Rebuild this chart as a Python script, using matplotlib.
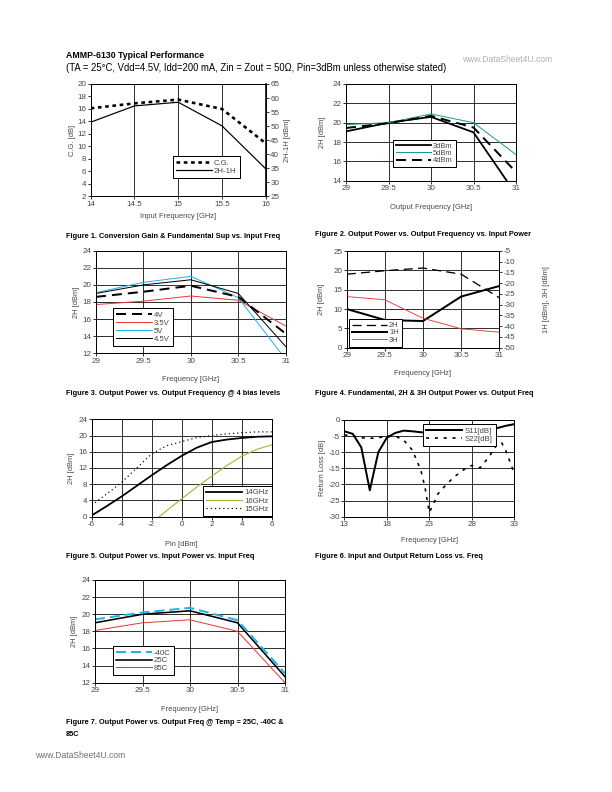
import numpy as np
import matplotlib.pyplot as plt

plt.rcParams['font.family'] = ['Liberation Sans', 'DejaVu Sans']
plt.rcParams['font.size'] = 7
plt.rcParams['axes.unicode_minus'] = False

GRAY = '#474747'
RED = '#e8383a'
CYAN = '#1eb4ea'
TEAL = '#1a9e8c'
GREEN = '#9cc23a'

# Figure 1: conversion gain / 2H-1H vs input freq
f1_freq = [14, 14.5, 15, 15.5, 16]
f1_cg = [16.1, 16.9, 17.5, 16.0, 10.5]
f1_sup = [51.4, 57.2, 58.5, 50.1, 34.8]

# Figure 2: 2H vs output freq for input powers
f2_freq = [29, 29.5, 30, 30.5, 31]
f2_3dbm = [19.1, 20.0, 20.6, 19.0, 12.6]
f2_5dbm = [19.8, 20.0, 20.9, 20.0, 16.7]
f2_4dbm = [19.45, 19.95, 20.7, 19.5, 14.9]

# Figure 3: 2H vs freq for bias levels
f3_freq = [29, 29.5, 30, 30.5, 31]
f3_4v = [18.6, 19.2, 19.9, 18.6, 14.3]
f3_35v = [17.7, 18.1, 18.7, 18.2, 15.2]
f3_5v = [19.1, 20.3, 21.0, 18.5, 11.3]
f3_45v = [19.0, 20.0, 20.6, 19.0, 12.8]

# Figure 4: 2H (left), 1H and 3H (right)
f4_freq = [29, 29.5, 30, 30.5, 31]
f4_2h = [19.0, 19.9, 20.6, 19.0, 12.9]
f4_1h = [-32.0, -37.1, -37.6, -26.2, -21.3]
f4_3h = [-26.2, -27.7, -36.3, -41.2, -42.8]

# Figure 5: 2H vs Pin
f5_pin = [-6, -5, -4, -3, -2, -1, 0, 1, 2, 3, 4, 5, 6]
f5_14g = [0.3, 2.6, 5.0, 7.6, 10.2, 12.7, 15.0, 17.0, 18.4, 19.0, 19.4, 19.7, 19.8]
f5_15g = [2.8, 5.6, 8.5, 12.0, 15.5, 17.5, 18.5, 19.5, 20.0, 20.4, 20.7, 20.9, 20.9]
f5_pin16 = [-1.5, -1, 0, 1, 2, 3, 4, 5, 6]
f5_16g = [0.0, 1.5, 4.4, 7.3, 10.0, 12.6, 14.9, 16.6, 17.7]

# Figure 6: return loss
f6_freq11 = [13, 14, 15, 16, 17, 18, 19, 20, 21, 22, 24, 26, 28, 30, 31, 32, 33]
f6_s11 = [-3.5, -4.3, -8.5, -21.8, -10.0, -5.5, -4.0, -3.3, -3.5, -3.8, -4.2, -4.0, -3.5, -3.0, -2.5, -1.8, -1.3]
f6_freq22 = [13, 14, 15, 16, 17, 18, 19, 20, 21, 22, 22.5, 23, 23.5, 24, 25, 26, 27, 28, 29, 30, 30.5, 31, 31.5, 32, 33]
f6_s22 = [-4.6, -5.0, -5.5, -5.7, -5.5, -5.0, -5.0, -6.3, -9.3, -15.5, -21.0, -28.7, -26.0, -23.0, -20.0,
          -17.5, -15.5, -14.1, -14.8, -11.5, -9.5, -7.5, -7.0, -9.5, -16.5]

# Figure 7: 2H vs freq at temperature
f7_freq = [29, 29.5, 30, 30.5, 31]
f7_m40 = [19.4, 20.2, 20.75, 19.3, 13.1]
f7_25 = [19.0, 20.0, 20.4, 19.0, 12.7]
f7_85 = [18.1, 19.0, 19.35, 18.0, 12.0]


def px_axes(fig, x0, x1, ytop, ybot):
    W, H = 612.0, 792.0
    return fig.add_axes([x0 / W, 1 - ybot / H, (x1 - x0) / W, (ybot - ytop) / H])


def style(ax, xgrid=True, ygrid=True):
    for s in ax.spines.values():
        s.set_linewidth(1.0)
        s.set_color('black')
    ax.tick_params(direction='out', length=3, width=0.8, colors='black',
                   labelcolor=GRAY, labelsize=8, pad=1.5)
    if xgrid:
        ax.grid(True, axis='x', color='black', lw=0.8)
    if ygrid:
        ax.grid(True, axis='y', color='black', lw=0.8)
    ax.set_axisbelow(True)


def legend(ax, handles, loc, anchor, spacing=0.08, size=7.8):
    lg = ax.legend(handles=handles, loc=loc, bbox_to_anchor=anchor, fontsize=size,
                   frameon=True, fancybox=False, edgecolor='black', framealpha=1,
                   handlelength=4.6, handletextpad=0.3, labelspacing=spacing,
                   borderpad=0.4, borderaxespad=0)
    lg.get_frame().set_linewidth(1.0)
    for t in lg.get_texts():
        t.set_color(GRAY)
    return lg


def freq_ticks(ax):
    ax.set_xlim(29, 31)
    ax.set_xticks([29, 29.5, 30, 30.5, 31])
    ax.set_xticklabels(['29', '29.5', '30', '30.5', '31'])


fig = plt.figure(figsize=(8.5, 11), dpi=72)

# header
fig.text(66 / 612, 1 - 55 / 792, 'AMMP-6130 Typical Performance', fontsize=8.8,
         fontweight='bold', va='center', ha='left')
fig.text(66 / 612, 1 - 68 / 792,
         '(TA = 25°C, Vdd=4.5V, Idd=200 mA, Zin = Zout = 50Ω, Pin=3dBm unless otherwise stated)',
         fontsize=9.5, va='center', ha='left')
fig.text(462 / 612, 1 - 60 / 792, 'www.DataSheet4U.com', fontsize=8.5, color='#b0b0b0',
         va='center', ha='left')
fig.text(35 / 612, 1 - 756 / 792, 'www.DataSheet4U.com', fontsize=8.5, color='#707070',
         va='center', ha='left')

CAP = 7.4

# ---- Figure 1
ax = px_axes(fig, 90.7, 265.7, 84, 196.3)
style(ax, xgrid=True, ygrid=False)
ax.set_xlim(14, 16)
ax.set_ylim(2, 20)
ax.set_xticks([14, 14.5, 15, 15.5, 16])
ax.set_xticklabels(['14', '14.5', '15', '15.5', '16'])
ax.set_yticks(np.arange(2, 21, 2))
l1, = ax.plot(f1_freq, f1_cg, color='black', lw=2.6, ls=(0, (1.4, 1.4)), label='C.G.')
ax.set_xlabel('Input Frequency [GHz]', color=GRAY, fontsize=7.5, labelpad=5)
ax.set_ylabel('C.G. [dB]', color=GRAY, fontsize=7.5, labelpad=1)
ax2 = ax.twinx()
ax2.set_ylim(25, 65)
ax2.set_yticks(np.arange(25, 66, 5))
style(ax2, xgrid=False, ygrid=False)
ax2.spines['right'].set_linewidth(1.6)
l2, = ax2.plot(f1_freq, f1_sup, color='black', lw=1.2, label='2H-1H')
ax2.set_ylabel('2H-1H [dBm]', color=GRAY, fontsize=7.5, labelpad=5)
legend(ax2, [l1, l2], 'lower left', (0.469, 0.163))
fig.text(66 / 612, 1 - 236 / 792, 'Figure 1. Conversion Gain & Fundamental Sup vs. Input Freq',
         fontsize=CAP, fontweight='bold', va='center')

# ---- Figure 2
ax = px_axes(fig, 346, 516, 84, 180.7)
style(ax)
freq_ticks(ax)
ax.set_ylim(14, 24)
ax.set_yticks(np.arange(14, 25, 2))
a, = ax.plot(f2_freq, f2_3dbm, color='black', lw=1.8, label='3dBm')
b, = ax.plot(f2_freq, f2_5dbm, color=TEAL, lw=1.0, label='5dBm')
c, = ax.plot(f2_freq, f2_4dbm, color='black', lw=2.0, ls=(0, (5, 3)), label='4dBm')
ax.set_xlabel('Output Frequency [GHz]', color=GRAY, fontsize=7.5, labelpad=12)
ax.set_ylabel('2H [dBm]', color=GRAY, fontsize=7.5, labelpad=7)
legend(ax, [a, b, c], 'lower left', (0.278, 0.139), spacing=0.0, size=7.5)
fig.text(315 / 612, 1 - 234 / 792, 'Figure 2. Output Power vs. Output Frequency vs. Input Power',
         fontsize=CAP, fontweight='bold', va='center')

# ---- Figure 3
ax = px_axes(fig, 96, 285.7, 250.7, 353.3)
style(ax)
freq_ticks(ax)
ax.set_ylim(12, 24)
ax.set_yticks(np.arange(12, 25, 2))
a, = ax.plot(f3_freq, f3_4v, color='black', lw=2.0, ls=(0, (5, 3)), label='4V', zorder=4)
b, = ax.plot(f3_freq, f3_35v, color=RED, lw=1.0, label='3.5V')
c, = ax.plot(f3_freq, f3_5v, color=CYAN, lw=1.0, label='5V')
d, = ax.plot(f3_freq, f3_45v, color='black', lw=1.0, label='4.5V')
ax.set_xlabel('Frequency [GHz]', color=GRAY, fontsize=7.5, labelpad=11.5)
ax.set_ylabel('2H [dBm]', color=GRAY, fontsize=7.5, labelpad=3)
legend(ax, [a, b, c, d], 'lower left', (0.088, 0.071))
fig.text(66 / 612, 1 - 394 / 792, 'Figure 3. Output Power vs. Output Frequency @ 4 bias levels',
         fontsize=CAP, fontweight='bold', va='center')

# ---- Figure 4
ax = px_axes(fig, 346.7, 499.3, 251, 347.7)
style(ax)
freq_ticks(ax)
ax.set_ylim(0, 25)
ax.set_yticks(np.arange(0, 26, 5))
a, = ax.plot(f4_freq, f4_2h, color='black', lw=1.3, ls=(0, (7, 4)), label='2H')
ax.set_xlabel('Frequency [GHz]', color=GRAY, fontsize=7.5, labelpad=10.5)
ax.set_ylabel('2H [dBm]', color=GRAY, fontsize=7.5, labelpad=8)
ax2 = ax.twinx()
ax2.set_ylim(-50, -5)
ax2.set_yticks(np.arange(-50, -4, 5))
style(ax2, xgrid=False, ygrid=False)
b, = ax2.plot(f4_freq, f4_1h, color='black', lw=2.0, label='1H')
c, = ax2.plot(f4_freq, f4_3h, color=RED, lw=0.9, label='3H')
ax2.set_ylabel('1H [dBm], 3H [dBm]', color=GRAY, fontsize=7.5, labelpad=28)
legend(ax2, [a, b, c], 'lower left', (0.017, 0.01), spacing=0.0, size=7.5)
fig.text(315 / 612, 1 - 394 / 792, 'Figure 4. Fundamental, 2H & 3H Output Power vs. Output Freq',
         fontsize=CAP, fontweight='bold', va='center')

# ---- Figure 5
ax = px_axes(fig, 91.7, 271.7, 419.3, 516.7)
style(ax)
ax.set_xlim(-6, 6)
ax.set_ylim(0, 24)
ax.set_xticks(np.arange(-6, 7, 2))
ax.set_yticks(np.arange(0, 25, 4))
a, = ax.plot(f5_pin, f5_14g, color='black', lw=1.8, label='14GHz')
b, = ax.plot(f5_pin16, f5_16g, color=GREEN, lw=1.2, label='16GHz')
c, = ax.plot(f5_pin, f5_15g, color='black', lw=1.2, ls=(0, (1, 2.5)), label='15GHz')
ax.set_xlabel('Pin [dBm]', color=GRAY, fontsize=7.5, labelpad=12.5)
ax.set_ylabel('2H [dBm]', color=GRAY, fontsize=7.5, labelpad=3)
legend(ax, [a, b, c], 'lower right', (1.0, 0.01))
fig.text(66 / 612, 1 - 556 / 792, 'Figure 5. Output Power vs. Input Power vs. Input Freq',
         fontsize=CAP, fontweight='bold', va='center')

# ---- Figure 6
ax = px_axes(fig, 344.3, 514.3, 420, 516.7)
style(ax)
ax.set_xlim(13, 33)
ax.set_ylim(-30, 0)
ax.set_xticks([13, 18, 23, 28, 33])
ax.set_yticks(np.arange(-30, 1, 5))
a, = ax.plot(f6_freq11, f6_s11, color='black', lw=2.0, label='S11[dB]')
b, = ax.plot(f6_freq22, f6_s22, color='black', lw=1.6, ls=(0, (2, 3.5)), label='S22[dB]')
ax.set_xlabel('Frequency [GHz]', color=GRAY, fontsize=7.5, labelpad=8.5)
ax.set_ylabel('Return Loss [dB]', color=GRAY, fontsize=7.5, labelpad=2)
lg = legend(ax, [a, b], 'upper left', (0.465, 0.955))
lg.set_zorder(5)
fig.text(315 / 612, 1 - 556 / 792, 'Figure 6. Input and Output Return Loss vs. Freq',
         fontsize=CAP, fontweight='bold', va='center')

# ---- Figure 7
ax = px_axes(fig, 95, 285, 580, 682.7)
style(ax)
freq_ticks(ax)
ax.set_ylim(12, 24)
ax.set_yticks(np.arange(12, 25, 2))
c, = ax.plot(f7_freq, f7_85, color=RED, lw=1.0, label='85C')
b, = ax.plot(f7_freq, f7_25, color='black', lw=1.6, label='25C')
a, = ax.plot(f7_freq, f7_m40, color=CYAN, lw=2.0, ls=(0, (5, 2.5)), label='-40C')
ax.set_xlabel('Frequency [GHz]', color=GRAY, fontsize=7.5, labelpad=11.5)
ax.set_ylabel('2H [dBm]', color=GRAY, fontsize=7.5, labelpad=3)
legend(ax, [a, b, c], 'lower left', (0.093, 0.072), spacing=0.03)
fig.text(66 / 612, 1 - 722 / 792, 'Figure 7. Output Power vs. Output Freq @ Temp = 25C, -40C &',
         fontsize=CAP, fontweight='bold', va='center')
fig.text(66 / 612, 1 - 734 / 792, '85C', fontsize=CAP, fontweight='bold', va='center')

fig.savefig('out.png', dpi=72)
